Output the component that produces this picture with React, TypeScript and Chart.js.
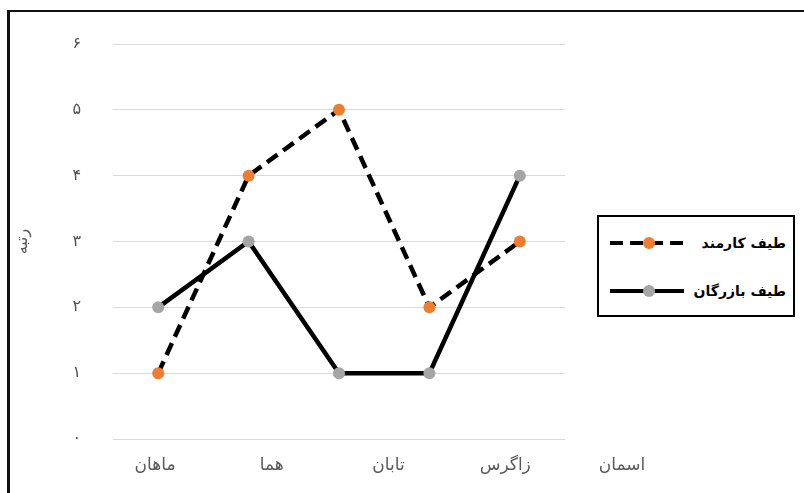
import React, { useEffect, useRef } from "react";
import { Chart, registerables } from "chart.js";

Chart.register(...registerables);

// ---- data ----
const categories = ["ماهان", "هما", "تابان", "زاگرس", "اسمان"];
const karmandValues = [1, 4, 5, 2, 3];
const bazarganValues = [2, 3, 1, 1, 4];
const seriesNames = ["طیف کارمند", "طیف بازرگان"];
const yTickLabels = ["۰", "۱", "۲", "۳", "۴", "۵", "۶"];
const yTitle = "رتبه";

// ---- styles ----
const ORANGE = "#ED7D31";
const GRAY = "#A5A5A5";
const LINE = "#000000";
const TEXT = "#595959";
const FONT = "'DejaVu Sans', sans-serif";
const DASH = [13, 7];

const legendItems = [
  { name: seriesNames[0], dot: ORANGE, dash: DASH },
  { name: seriesNames[1], dot: GRAY, dash: [] as number[] },
];

export default function App() {
  const canvasRef = useRef<HTMLCanvasElement | null>(null);

  useEffect(() => {
    if (!canvasRef.current) return;
    const chart = new Chart(canvasRef.current, {
      type: "line",
      data: {
        labels: categories,
        datasets: [
          {
            label: seriesNames[0],
            data: karmandValues,
            borderColor: LINE,
            borderWidth: 4.5,
            borderDash: DASH,
            pointRadius: 6,
            pointBackgroundColor: ORANGE,
            pointBorderColor: ORANGE,
            pointBorderWidth: 0,
            tension: 0,
            fill: false,
            xAxisID: "x",
            yAxisID: "y",
          },
          {
            label: seriesNames[1],
            data: bazarganValues,
            borderColor: LINE,
            borderWidth: 4.5,
            pointRadius: 6,
            pointBackgroundColor: GRAY,
            pointBorderColor: GRAY,
            pointBorderWidth: 0,
            tension: 0,
            fill: false,
            xAxisID: "x",
            yAxisID: "y",
          },
        ],
      },
      options: {
        animation: false,
        responsive: false,
        maintainAspectRatio: false,
        layout: { padding: { left: 10, top: 44, right: 239, bottom: 0 } },
        plugins: {
          legend: { display: false },
          tooltip: { enabled: false },
        },
        scales: {
          x: {
            type: "category",
            display: false,
            offset: true,
          },
          xl: {
            type: "linear",
            position: "bottom",
            min: -0.36,
            max: 3.512,
            bounds: "data",
            grid: { display: false, drawTicks: false },
            border: { display: false },
            afterBuildTicks: (s: any) => {
              s.ticks = categories.map((_, i) => ({ value: i }));
            },
            afterFit: (s: any) => {
              s.height = 54;
            },
            ticks: {
              autoSkip: false,
              maxRotation: 0,
              minRotation: 0,
              padding: 16,
              color: TEXT,
              font: { family: FONT, size: 17 },
              callback: (v: any) => categories[Math.round(Number(v))] ?? "",
            },
          },
          y: {
            min: 0,
            max: 6,
            afterFit: (s: any) => {
              s.width = 103;
            },
            grid: { color: "#d9d9d9", lineWidth: 1, drawTicks: false },
            border: { display: false },
            ticks: {
              stepSize: 1,
              padding: 32,
              color: "#505050",
              font: { family: FONT, size: 16 },
              callback: (v: any) => yTickLabels[Math.round(Number(v))] ?? "",
            },
            title: {
              display: true,
              text: yTitle,
              color: TEXT,
              font: { family: FONT, size: 16 },
              padding: { top: 3, bottom: 0 },
            },
          },
        },
      } as any,
    });
    return () => chart.destroy();
  }, []);

  return (
    <div
      style={{
        position: "absolute",
        left: 0,
        top: 0,
        width: 804,
        height: 493,
        overflow: "hidden",
        background: "#ffffff",
      }}
    >
      <div
        style={{
          position: "absolute",
          left: 7,
          top: 10,
          width: 820,
          height: 500,
          borderTop: "2px solid #111",
          borderLeft: "3px solid #111",
        }}
      />
      <canvas
        ref={canvasRef}
        width={804}
        height={493}
        style={{ position: "absolute", left: 0, top: 0, width: 804, height: 493 }}
      />
      <div
        style={{
          position: "absolute",
          left: 597,
          top: 215,
          width: 198,
          height: 102,
          boxSizing: "border-box",
          border: "2px solid #000",
          background: "#fff",
        }}
      >
        {legendItems.map((it, i) => (
          <div
            key={it.name}
            style={{
              position: "absolute",
              left: 11,
              right: 7,
              top: 15 + i * 48,
              height: 22,
              display: "flex",
              alignItems: "center",
              justifyContent: "space-between",
            }}
          >
            <svg width={74} height={14}>
              <line
                x1={0}
                y1={7}
                x2={74}
                y2={7}
                stroke={LINE}
                strokeWidth={4}
                strokeDasharray={it.dash.length ? it.dash.join(" ") : undefined}
              />
              <circle cx={39} cy={7} r={6} fill={it.dot} />
            </svg>
            <span
              dir="rtl"
              style={{
                fontFamily: FONT,
                fontWeight: "bold",
                fontSize: 14,
                color: "#000",
                whiteSpace: "nowrap",
              }}
            >
              {it.name}
            </span>
          </div>
        ))}
      </div>
    </div>
  );
}
